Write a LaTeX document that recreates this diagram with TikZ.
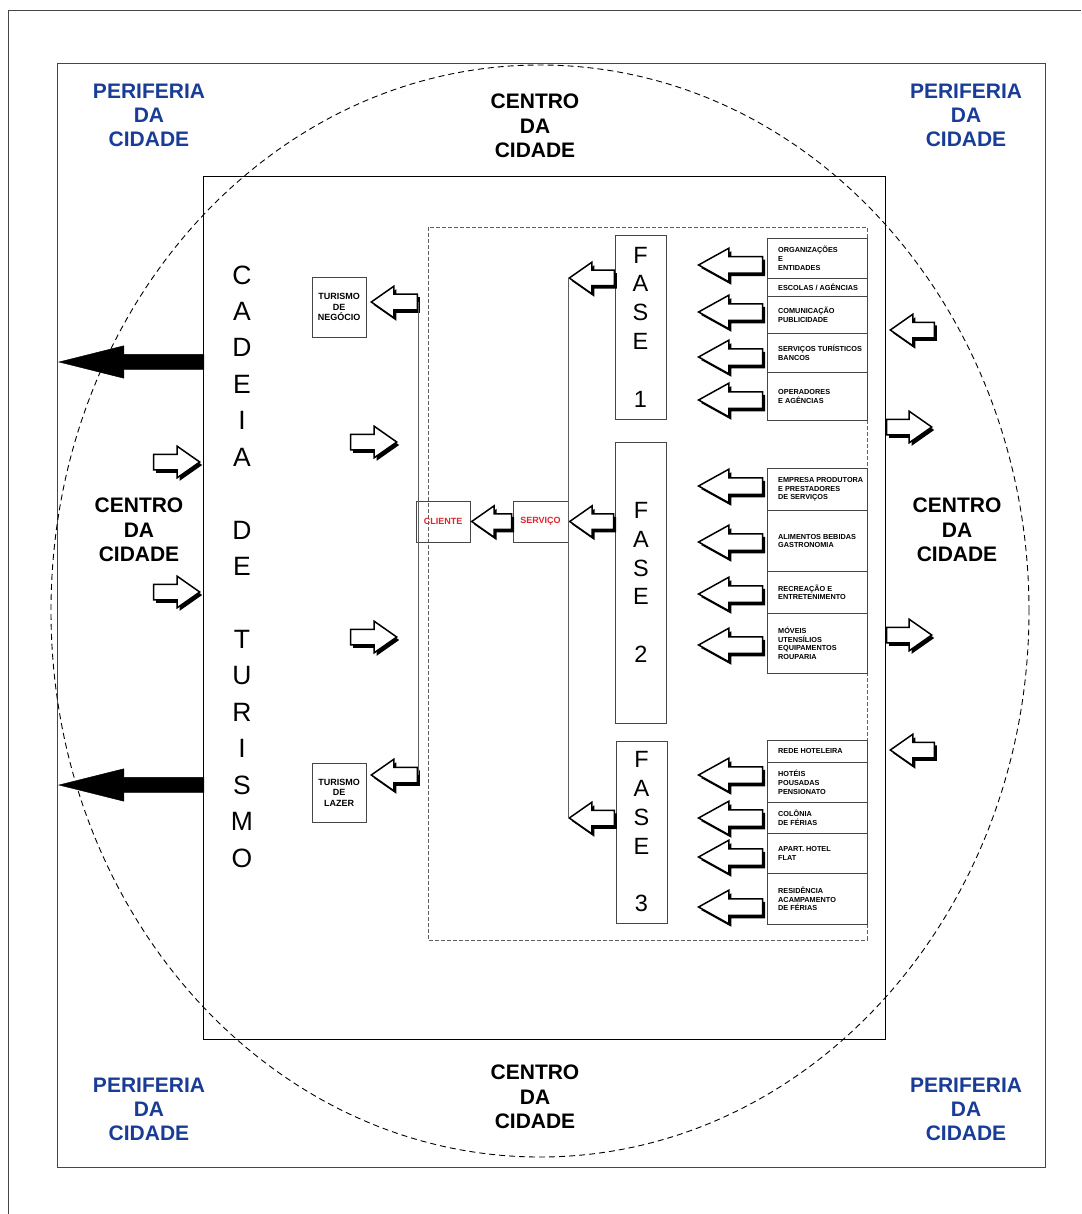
\documentclass[tikz,border=0pt]{standalone}
\usepackage{fontspec}
\setmainfont{Liberation Sans}
\usetikzlibrary{shapes.arrows,shadows}
\definecolor{periblue}{RGB}{25,60,150}
\definecolor{cred}{RGB}{225,35,45}
\definecolor{framegray}{RGB}{70,70,70}
\definecolor{linegray}{RGB}{95,95,95}
\newcommand\rbox[4]{%
  \node[cbox,minimum height=#3pt,anchor=north west] (#1) at (767,#2) {};
  \node[ctext] (#1t) at ([xshift=11pt]#1.west) {#4};}
\begin{document}
\begin{tikzpicture}[x=1pt,y=-1pt,
  arrowbase/.style={single arrow, draw=black, line width=1.5pt, fill=white,
    inner xsep=0pt, inner ysep=7pt, single arrow head extend=8pt,
    single arrow tip angle=70, anchor=tip,
    drop shadow={shadow xshift=2.5pt, shadow yshift=-3pt, fill=black, opacity=1}},
  larrow/.style={arrowbase, shape border rotate=180, minimum height=#1},
  rarrow/.style={arrowbase, minimum height=#1},
  bigleft/.style={arrowbase, shape border rotate=180, minimum height=64pt,
    inner ysep=7.5pt, single arrow head extend=8.5pt, single arrow tip angle=58},
  blackarrow/.style={single arrow, draw=black, fill=black, inner xsep=0pt,
    inner ysep=7.5pt, single arrow head extend=8.5pt, single arrow tip angle=28,
    minimum height=145pt, shape border rotate=180, anchor=tip},
  peri/.style={align=center, text=periblue, inner sep=0pt,
    font=\bfseries\fontsize{21}{24}\selectfont},
  centro/.style={align=center, text=black, inner sep=0pt,
    font=\bfseries\fontsize{21}{24.5}\selectfont},
  cbox/.style={draw=framegray, line width=0.8pt, minimum width=100pt, inner sep=0pt},
  ctext/.style={anchor=west, align=left, inner sep=0pt,
    font=\bfseries\fontsize{7.3}{8.7}\selectfont},
  tbox/.style={draw=framegray, line width=0.8pt, align=center, inner sep=0pt,
    minimum width=54pt, font=\bfseries\fontsize{9}{10.5}\selectfont},
  fasebox/.style={draw=framegray, line width=0.8pt, align=center, inner sep=0pt,
    minimum width=51pt, font=\fontsize{23.5}{28.8}\selectfont},
  redbox/.style={draw=framegray, line width=0.8pt, inner sep=0pt, minimum height=41pt,
    text=cred, font=\bfseries\fontsize{9}{10}\selectfont},
  vline/.style={draw=linegray, line width=0.9pt}
]
\useasboundingbox (0,0) rectangle (1081,1214);
% outer lines
\draw[framegray, line width=1pt] (8,1214) -- (8,11) -- (1081,11);
% main frame
\draw[framegray, line width=1pt] (57,64) rectangle (1045,1167);
% dashed ellipse
\draw[black, line width=0.9pt, dash pattern=on 6pt off 4pt] (540,611) ellipse [x radius=489pt, y radius=546pt];
% inner box
\draw[black, line width=1pt] (203,177) rectangle (885,1039);
% dashed inner rectangle
\draw[linegray, line width=0.9pt, dash pattern=on 4pt off 2pt] (428,227) rectangle (867,940);

% corner labels
\node[peri] (p1) at (149,115) {PERIFERIA\\DA\\CIDADE};
\node[peri] (p2) at (966,115) {PERIFERIA\\DA\\CIDADE};
\node[peri] (p3) at (149,1109) {PERIFERIA\\DA\\CIDADE};
\node[peri] (p4) at (966,1109) {PERIFERIA\\DA\\CIDADE};
\node[centro] (c1) at (535,126) {CENTRO\\DA\\CIDADE};
\node[centro] (c2) at (535,1097) {CENTRO\\DA\\CIDADE};
\node[centro] (c3) at (139,530) {CENTRO\\DA\\CIDADE};
\node[centro] (c4) at (957,530) {CENTRO\\DA\\CIDADE};

% chain title
\node[align=center, inner sep=0pt, font=\fontsize{26.5}{36.44}\selectfont] (cadeia) at (242,566.5)
  {C\\A\\D\\E\\I\\A\\[0pt]\strut\\D\\E\\[0pt]\strut\\T\\U\\R\\I\\S\\M\\O};

% FASE boxes
\node[fasebox, minimum height=184pt] (fase1) at (640.5,327) {F\\A\\S\\E\\ \\1};
\node[fasebox, minimum height=281pt] (fase2) at (641,582.5) {F\\A\\S\\E\\ \\2};
\node[fasebox, minimum height=182pt] (fase3) at (641.5,832) {F\\A\\S\\E\\ \\3};

% right column boxes
\rbox{r1}{238}{40}{ORGANIZAÇÕES\\E\\ENTIDADES}
\rbox{r2}{278}{18}{ESCOLAS / AGÊNCIAS}
\rbox{r3}{296}{37}{COMUNICAÇÃO\\PUBLICIDADE}
\rbox{r4}{333}{39}{SERVIÇOS TURÍSTICOS\\BANCOS}
\rbox{r5}{372}{48}{OPERADORES\\E AGÊNCIAS}
\rbox{r6}{468}{42}{EMPRESA PRODUTORA\\E PRESTADORES\\DE SERVIÇOS}
\rbox{r7}{510}{61}{ALIMENTOS BEBIDAS\\GASTRONOMIA}
\rbox{r8}{571}{42}{RECREAÇÃO E\\ENTRETENIMENTO}
\rbox{r9}{613}{60}{MÓVEIS\\UTENSÍLIOS\\EQUIPAMENTOS\\ROUPARIA}
\rbox{r10}{740}{22}{REDE HOTELEIRA}
\rbox{r11}{762}{40}{HOTÉIS\\POUSADAS\\PENSIONATO}
\rbox{r12}{802}{31}{COLÔNIA\\DE FÉRIAS}
\rbox{r13}{833}{40}{APART. HOTEL\\FLAT}
\rbox{r14}{873}{51}{RESIDÊNCIA\\ACAMPAMENTO\\DE FÉRIAS}

% tourism boxes
\node[tbox, minimum height=60pt] (tneg) at (339,307) {TURISMO\\DE\\NEGÓCIO};
\node[tbox, minimum height=59pt] (tlaz) at (339,792.5) {TURISMO\\DE\\LAZER};

% client / service
\node[redbox, minimum width=54pt] (cli) at (443,521.5) {CLIENTE};
\node[redbox, minimum width=55pt] (serv) at (540.5,521.5) {SERVIÇO};

% connecting arrows in the middle
\node[larrow=45pt] (fa1) at (568,278) {};
\node[larrow=44pt] (fa2) at (serv.east) {};
\node[larrow=45pt] (fa3) at (568,818) {};
\draw[vline] (fa1.tip) -- (fa3.tip);
\node[larrow=40pt] (sa) at (cli.east) {};
\node[larrow=46pt] (ta1) at (370,302) {};
\node[larrow=46pt] (ta2) at (370,775) {};
\draw[vline] (ta1.tail) -- (ta2.tail);

% right column arrows
\foreach \y [count=\i] in {265,312,357,400,486,542,594,645,775,818,857,907}
  \node[bigleft] (ra\i) at (697,\y) {};

% small arrows inside frame (pointing right)
\node[rarrow=46pt] (ia1) at (398,442) {};
\node[rarrow=46pt] (ia2) at (398,637) {};
% small arrows at left border
\node[rarrow=46pt] (la1) at (201,462) {};
\node[rarrow=46pt] (la2) at (201,592) {};
% small arrows at right border
\node[larrow=44pt] (oa1) at (889,330) {};
\node[rarrow=45pt] (oa2) at (933,427) {};
\node[rarrow=45pt] (oa3) at (933,635) {};
\node[larrow=44pt] (oa4) at (889,750) {};

% big black arrows
\node[blackarrow] (ba1) at (58,362) {};
\node[blackarrow] (ba2) at (58,785) {};
\end{tikzpicture}
\end{document}
